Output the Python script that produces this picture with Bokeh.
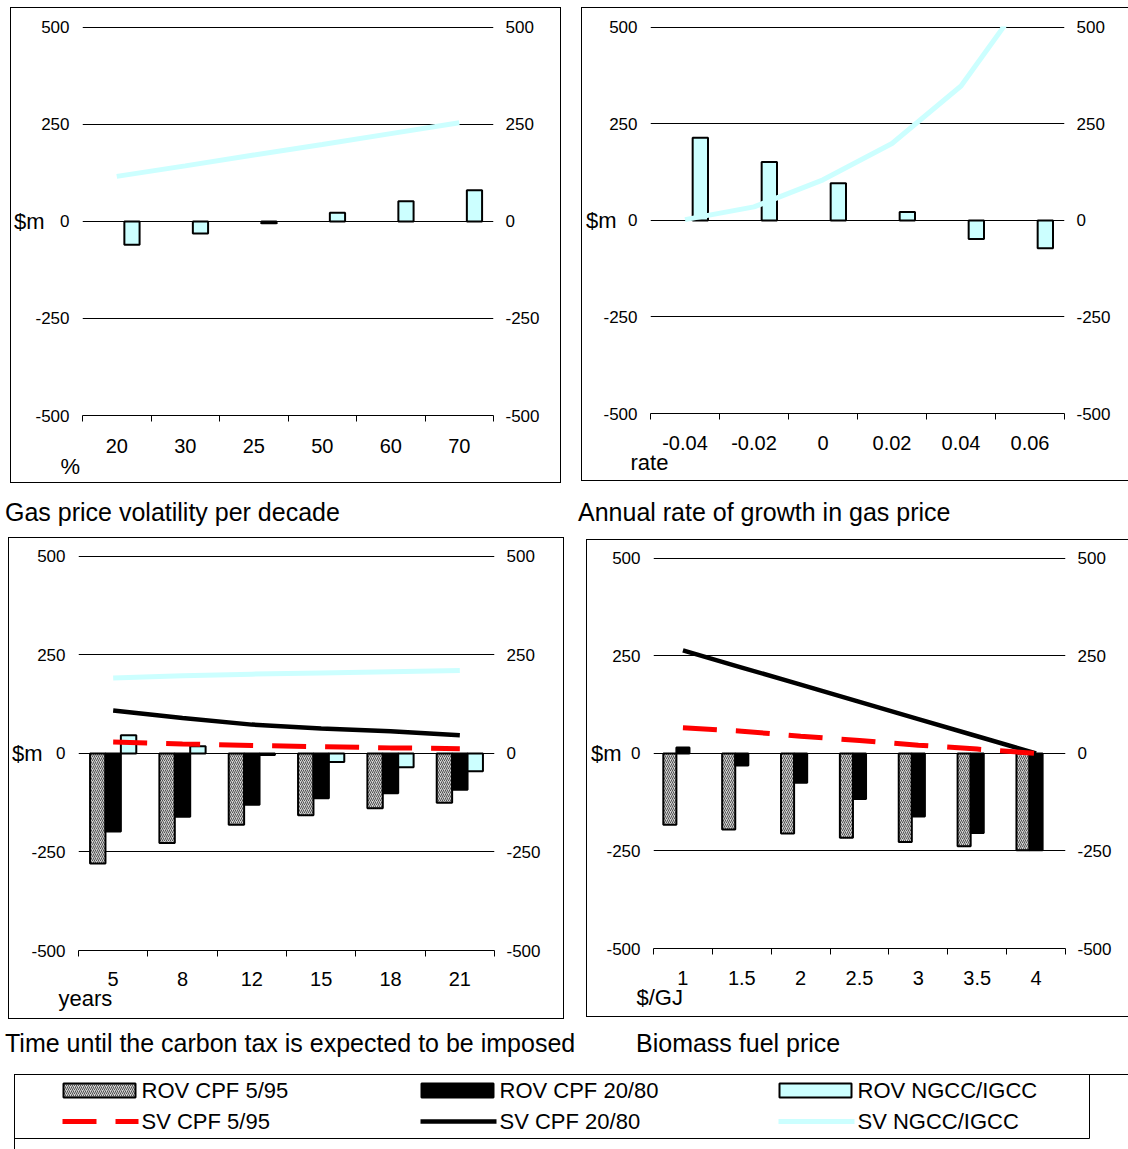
from bokeh.plotting import figure
from bokeh.models import LinearAxis, FixedTicker, Grid, Range1d, Title, Div, ColumnDataSource
from bokeh.layouts import column, row
from bokeh.embed import file_html
from bokeh.resources import INLINE
from bokeh.core.properties import value

# ---------------------------------------------------------------- data ($m)
vol_cats = ["20", "30", "25", "50", "60", "70"]
vol_rov_ngcc = [-60, -31, -5, 22, 52, 80]
vol_sv_ngcc = [116, 143, 171, 198, 226, 254]

rate_cats = ["-0.04", "-0.02", "0", "0.02", "0.04", "0.06"]
rate_rov_ngcc = [214, 151, 96, 22, -48, -72]
rate_sv_ngcc = [2, 35, 105, 199, 348, 596]

tax_cats = ["5", "8", "12", "15", "18", "21"]
tax_rov_cpf5 = [-279, -227, -181, -157, -139, -125]
tax_rov_cpf20 = [-198, -161, -130, -114, -101, -92]
tax_rov_ngcc = [46, 18, -4, -22, -35, -45]
tax_sv_cpf5 = [29, 24, 20, 17, 14, 12]
tax_sv_cpf20 = [109, 90, 73, 63, 56, 46]
tax_sv_ngcc = [191, 197, 201, 204, 207, 210]

bio_cats = ["1", "1.5", "2", "2.5", "3", "3.5", "4"]
bio_rov_cpf5 = [-183, -195, -205, -216, -227, -238, -248]
bio_rov_cpf20 = [15, -31, -75, -117, -162, -204, -248]
bio_sv_cpf5 = [66, 57, 44, 33, 21, 11, 0]
bio_sv_cpf20 = [264, 220, 176, 132, 88, 44, 0]

y_ticks = [-500, -250, 0, 250, 500]

captions = [
    "Gas price volatility per decade",
    "Annual rate of growth in gas price",
    "Time until the carbon tax is expected to be imposed",
    "Biomass fuel price",
]
legend_labels = ["ROV CPF 5/95", "ROV CPF 20/80", "ROV NGCC/IGCC",
                 "SV CPF 5/95", "SV CPF 20/80", "SV NGCC/IGCC"]

# ---------------------------------------------------------------- styles
FONT = "Liberation Sans"
CYAN = "#CCFFFF"
RED = "#FF0000"
BAR_W = 1 / 4.5          # three bars per category plus a 150% gap
OFFSET = {"cpf5": -BAR_W, "cpf20": 0.0, "ngcc": BAR_W}

BAR_STYLE = {
    "cpf5": dict(fill_color="#d2d2d2", hatch_pattern="/", hatch_color="#505050",
                 hatch_scale=4, hatch_weight=1, line_color="black", line_width=2),
    "cpf20": dict(fill_color="black", line_color="black", line_width=2),
    "ngcc": dict(fill_color=CYAN, line_color="black", line_width=2),
}
LINE_STYLE = {
    "ngcc": dict(line_color=CYAN, line_width=5),
    "cpf20": dict(line_color="black", line_width=4.5),
    "cpf5": dict(line_color=RED, line_width=5, line_dash="34 19"),
}

FULL_BOX = {"box-shadow": "inset 0 0 0 1px #000"}
OPEN_RIGHT_BOX = {"box-shadow": "inset 1px 1px 0 0 #000, inset 0 -1px 0 0 #000"}


def panel(cats, bars, lines, x_title, borders, frame, ylab_shift,
          xlabel_gap, xtitle_offset, xtitle_gap, box):
    n = len(cats)
    left, right, top, bottom = borders
    fw, fh = frame
    p = figure(width=left + fw + right, height=top + fh + bottom,
               x_range=Range1d(0, n), y_range=Range1d(-500, 502),
               x_axis_type=None, y_axis_type=None, title=None,
               toolbar_location=None, output_backend="svg",
               min_border_left=left, min_border_right=right,
               min_border_top=top, min_border_bottom=bottom,
               background_fill_color=None, border_fill_color=None,
               outline_line_color=None)
    p.styles = box

    p.add_layout(Grid(dimension=1, ticker=FixedTicker(ticks=y_ticks),
                      grid_line_color="black", grid_line_width=1))

    labels = {t: str(t) for t in y_ticks}
    common = dict(ticker=FixedTicker(ticks=y_ticks), major_label_overrides=labels,
                  axis_line_color=None, major_tick_line_color=None,
                  minor_tick_line_color=None, major_tick_in=0, major_tick_out=0,
                  minor_tick_in=0, minor_tick_out=0,
                  major_label_text_font=FONT, major_label_text_font_size="17px",
                  major_label_text_color="black")
    yl = LinearAxis(major_label_standoff=13, axis_label="$m",
                    axis_label_orientation="horizontal",
                    axis_label_standoff=ylab_shift,
                    axis_label_text_font=FONT, axis_label_text_font_size="22px",
                    axis_label_text_font_style="normal",
                    axis_label_text_color="black", **common)
    p.add_layout(yl, "left")
    yr = LinearAxis(major_label_standoff=12, **common)
    p.add_layout(yr, "right")

    centers = [i + 0.5 for i in range(n)]
    xb = LinearAxis(ticker=FixedTicker(ticks=centers, minor_ticks=list(range(n + 1))),
                    major_label_overrides=dict(zip(centers, cats)),
                    axis_line_color="black", axis_line_width=1,
                    major_tick_line_color=None, major_tick_in=0, major_tick_out=0,
                    minor_tick_line_color="black", minor_tick_in=0, minor_tick_out=6,
                    major_label_standoff=xlabel_gap, major_label_text_font=FONT,
                    major_label_text_font_size="20px", major_label_text_color="black")
    p.add_layout(xb, "below")
    p.add_layout(Title(text=x_title, align="left", offset=xtitle_offset,
                       standoff=xtitle_gap, text_font=FONT, text_font_size="22px",
                       text_font_style="normal", text_color="black"), "below")

    for key, vals in bars:
        src = ColumnDataSource(dict(x=[c + OFFSET[key] for c in centers], top=vals))
        p.vbar(x="x", top="top", bottom=0, width=BAR_W, source=src, **BAR_STYLE[key])
    for key, vals in lines:
        src = ColumnDataSource(dict(x=centers, y=vals))
        p.line(x="x", y="y", source=src, **LINE_STYLE[key])
    return p


p1 = panel(vol_cats, [("ngcc", vol_rov_ngcc)], [("ngcc", vol_sv_ngcc)], "%",
           borders=(70, 68, 16, 68), frame=(413, 392), ylab_shift=-12,
           xlabel_gap=17, xtitle_offset=-22, xtitle_gap=-8, box=FULL_BOX)
p1.margin = (7, 0, 0, 10)

p2 = panel(rate_cats, [("ngcc", rate_rov_ngcc)], [("ngcc", rate_sv_ngcc)], "rate",
           borders=(69, 64, 19, 67), frame=(414, 388), ylab_shift=-16,
           xlabel_gap=16, xtitle_offset=-20, xtitle_gap=-9, box=OPEN_RIGHT_BOX)
p2.margin = (7, 0, 0, 20)

p3 = panel(tax_cats,
           [("cpf5", tax_rov_cpf5), ("cpf20", tax_rov_cpf20), ("ngcc", tax_rov_ngcc)],
           [("ngcc", tax_sv_ngcc), ("cpf20", tax_sv_cpf20), ("cpf5", tax_sv_cpf5)],
           "years", borders=(70, 70, 18, 69), frame=(416, 395), ylab_shift=-14,
           xlabel_gap=15, xtitle_offset=-20, xtitle_gap=-10, box=FULL_BOX)
p3.margin = (12, 0, 0, 8)

p4 = panel(bio_cats,
           [("cpf5", bio_rov_cpf5), ("cpf20", bio_rov_cpf20)],
           [("cpf20", bio_sv_cpf20), ("cpf5", bio_sv_cpf5)],
           "$/GJ", borders=(67, 63, 17, 69), frame=(412, 392), ylab_shift=-18,
           xlabel_gap=16, xtitle_offset=-17, xtitle_gap=-9, box=OPEN_RIGHT_BOX)
p4.margin = (14, 0, 0, 22)


def caption(text, width, margin):
    return Div(text=text, width=width, height=25, margin=margin,
               styles={"font-family": FONT, "font-size": "25px", "line-height": "25px",
                       "white-space": "nowrap", "color": "black"})


c1 = caption(captions[0], 560, (17, 0, 0, 5))
c2 = caption(captions[1], 540, (17, 0, 0, 13))
c3 = caption(captions[2], 620, (12, 0, 0, 5))
c4 = caption(captions[3], 400, (12, 0, 0, 11))

# ---------------------------------------------------------------- legend
lg = figure(width=1114, height=75, x_range=Range1d(0, 1075), y_range=Range1d(64, 0),
            x_axis_type=None, y_axis_type=None, title=None,
            toolbar_location=None, output_backend="svg",
            min_border_left=0, min_border_right=39, min_border_top=0, min_border_bottom=11,
            outline_line_color="black", outline_line_width=1,
            background_fill_color=None, border_fill_color=None)
lg.styles = {"box-shadow": "inset 1px 1px 0 0 #000"}
lg.margin = (18, 0, 0, 14)

col_x = [49, 407, 765]
sw_w = 72
row_y = [16, 47]
for key, x0 in zip(["cpf5", "cpf20", "ngcc"], col_x):
    lg.quad(left=[x0], right=[x0 + sw_w], top=[row_y[0] - 7], bottom=[row_y[0] + 7],
            **BAR_STYLE[key])
for key, x0 in zip(["cpf5", "cpf20", "ngcc"], col_x):
    lg.line(x=[x0 - 1, x0 + sw_w + 3], y=[row_y[1], row_y[1]], **LINE_STYLE[key])
lg.text(x=[x + sw_w + 6 for x in col_x] * 2,
        y=[row_y[0]] * 3 + [row_y[1]] * 3,
        text=legend_labels, text_font=value(FONT), text_font_size="22px",
        text_baseline="middle", text_align="left", text_color="black")

layout = column(row(p1, p2), row(c1, c2), row(p3, p4), row(c3, c4), lg)

open("out.html", "w").write(file_html(layout, INLINE))
